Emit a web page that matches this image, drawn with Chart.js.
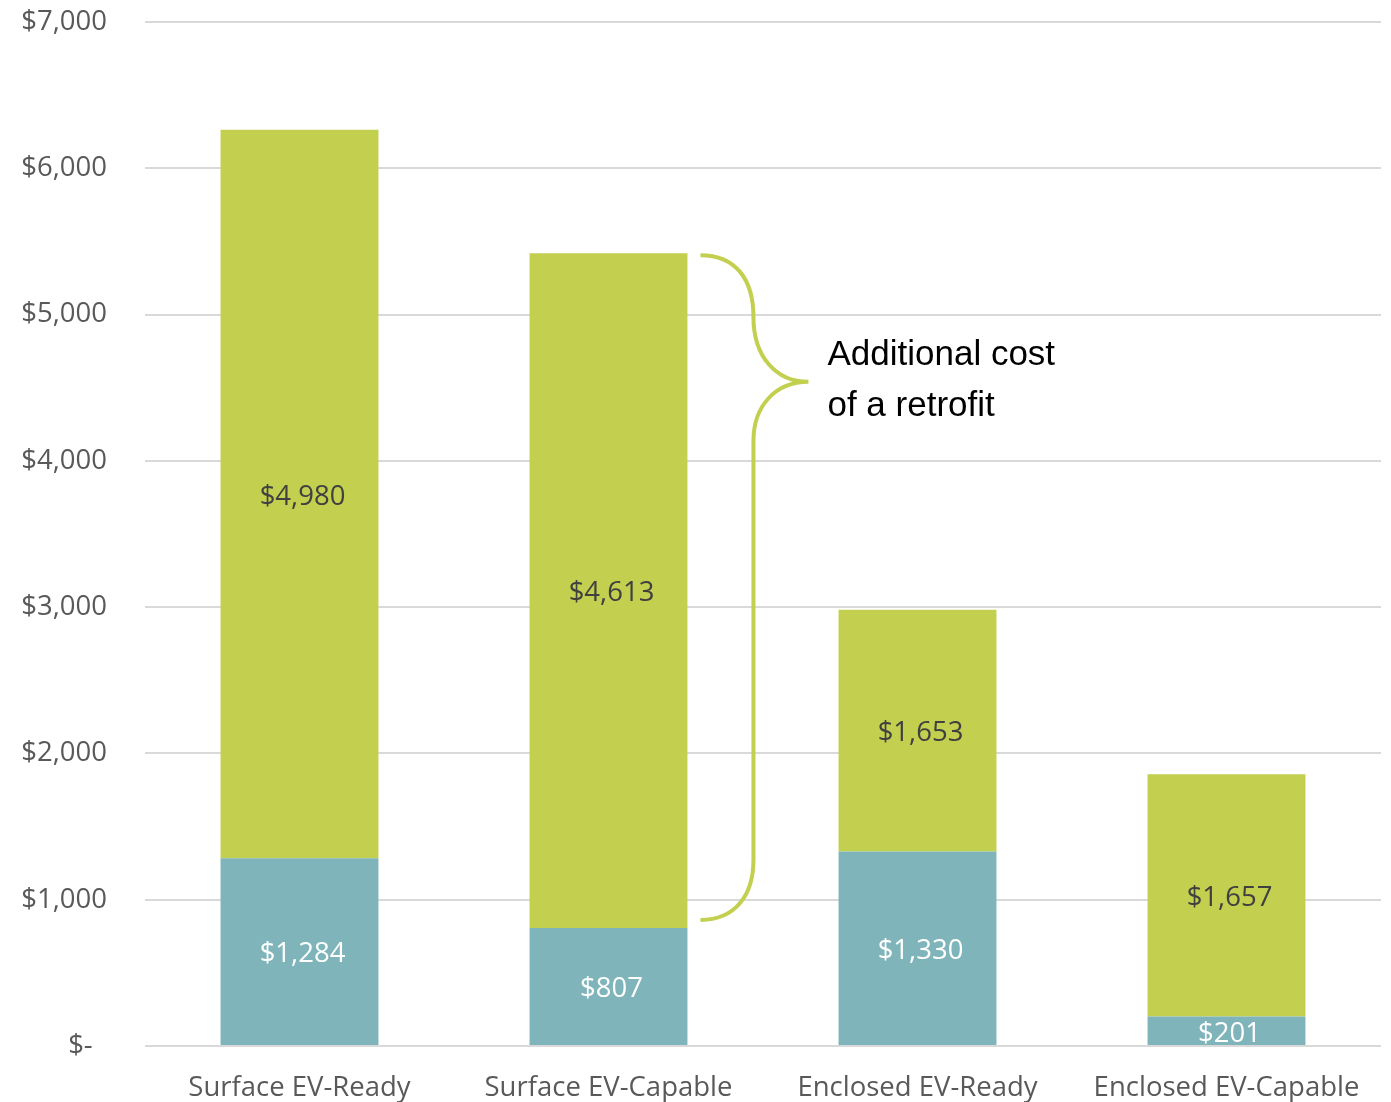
<!DOCTYPE html>
<html>
<head>
<meta charset="utf-8">
<script src="https://cdn.jsdelivr.net/npm/chart.js@4.4.1/dist/chart.umd.min.js"></script>
<style>
  html, body { margin: 0; padding: 0; background: #fff; }
  #wrap { width: 1391px; height: 1102px; position: relative; }
</style>
</head>
<body>
<div id="wrap"><canvas id="grafico"></canvas></div>
<script>
const categorias = ["Surface EV-Ready", "Surface EV-Capable", "Enclosed EV-Ready", "Enclosed EV-Capable"];
const custoBase = [1284, 807, 1330, 201];
const custoRetrofit = [4980, 4613, 1653, 1657];
const ticksY = [0, 1000, 2000, 3000, 4000, 5000, 6000, 7000];
const textoNota = ["Additional cost", "of a retrofit"];
const pontaChave = 4540; // where the brace tip points

const VERDE = '#c3cf4f';
const AZUL = '#7fb5ba';
const CINZA = '#595959';
const FONTE = "'Open Sans', sans-serif";

function moeda(v) {
  if (v === 0) return '$-  ';
  return '$' + v.toLocaleString('en-US');
}

const rotulosPlugin = {
  id: 'rotulos',
  afterDatasetsDraw(chart) {
    const ctx = chart.ctx;
    ctx.save();
    ctx.font = `27.5px ${FONTE}`;
    ctx.textAlign = 'center';
    ctx.textBaseline = 'middle';
    chart.data.datasets.forEach((ds, i) => {
      const meta = chart.getDatasetMeta(i);
      meta.data.forEach((el, j) => {
        ctx.fillStyle = i === 0 ? '#ffffff' : '#404040';
        ctx.fillText(moeda(ds.data[j]), el.x + 3, (el.y + el.base) / 2 + 3);
      });
    });
    ctx.restore();
  }
};

const chavePlugin = {
  id: 'chave',
  afterDatasetsDraw(chart) {
    const ctx = chart.ctx;
    const y = chart.scales.y;
    const barra = chart.getDatasetMeta(1).data[1];
    const x0 = barra.x + barra.width / 2 + 13;
    const xv = x0 + 53;
    const xp = x0 + 108;
    const yTopo = y.getPixelForValue(custoBase[1] + custoRetrofit[1]) + 2;
    const yBase = y.getPixelForValue(custoBase[1]) - 8;
    const yPonta = y.getPixelForValue(pontaChave);

    ctx.save();
    ctx.strokeStyle = VERDE;
    ctx.lineWidth = 4;
    ctx.beginPath();
    ctx.moveTo(x0, yTopo);
    ctx.bezierCurveTo(x0 + 35, yTopo, xv, yTopo + 24, xv, yTopo + 62);
    ctx.bezierCurveTo(xv, yPonta - 26, xv + 22, yPonta, xp, yPonta);
    ctx.bezierCurveTo(xv + 22, yPonta, xv, yPonta + 24, xv, yPonta + 59);
    ctx.lineTo(xv, yBase - 60);
    ctx.bezierCurveTo(xv, yBase - 25, x0 + 35, yBase, x0, yBase);
    ctx.stroke();

    ctx.fillStyle = '#000000';
    ctx.font = "35px 'Liberation Sans', Arial, sans-serif";
    ctx.textAlign = 'left';
    ctx.textBaseline = 'middle';
    ctx.fillText(textoNota[0], xp + 19, yPonta - 27);
    ctx.fillText(textoNota[1], xp + 19, yPonta + 24);
    ctx.restore();
  }
};

new Chart(document.getElementById('grafico'), {
  type: 'bar',
  data: {
    labels: categorias,
    datasets: [
      { label: 'Base', data: custoBase, backgroundColor: AZUL, barPercentage: 0.511, categoryPercentage: 1 },
      { label: 'Retrofit', data: custoRetrofit, backgroundColor: VERDE, barPercentage: 0.511, categoryPercentage: 1 }
    ]
  },
  options: {
    responsive: true,
    maintainAspectRatio: false,
    animation: false,
    layout: { padding: { top: 22, right: 10, left: 0, bottom: 0 } },
    plugins: {
      legend: { display: false },
      tooltip: { enabled: false }
    },
    scales: {
      x: {
        stacked: true,
        grid: { display: false, drawTicks: false },
        border: { display: false },
        ticks: { color: CINZA, font: { family: FONTE, size: 27.5 }, padding: 26, maxRotation: 0 },
        afterFit: s => { s.height = 56; s.paddingLeft = 0; s.paddingRight = 0; }
      },
      y: {
        stacked: true,
        min: 0,
        max: 7000,
        afterBuildTicks: s => { s.ticks = ticksY.map(v => ({ value: v })); },
        grid: { color: '#d9d9d9', lineWidth: 2, drawTicks: false },
        border: { display: false },
        ticks: { color: CINZA, font: { family: FONTE, size: 27.5 }, padding: 38, callback: v => moeda(v) },
        afterFit: s => { s.width = 145; s.paddingTop = 0; s.paddingBottom = 0; }
      }
    }
  },
  plugins: [rotulosPlugin, chavePlugin]
});
</script>
</body>
</html>
